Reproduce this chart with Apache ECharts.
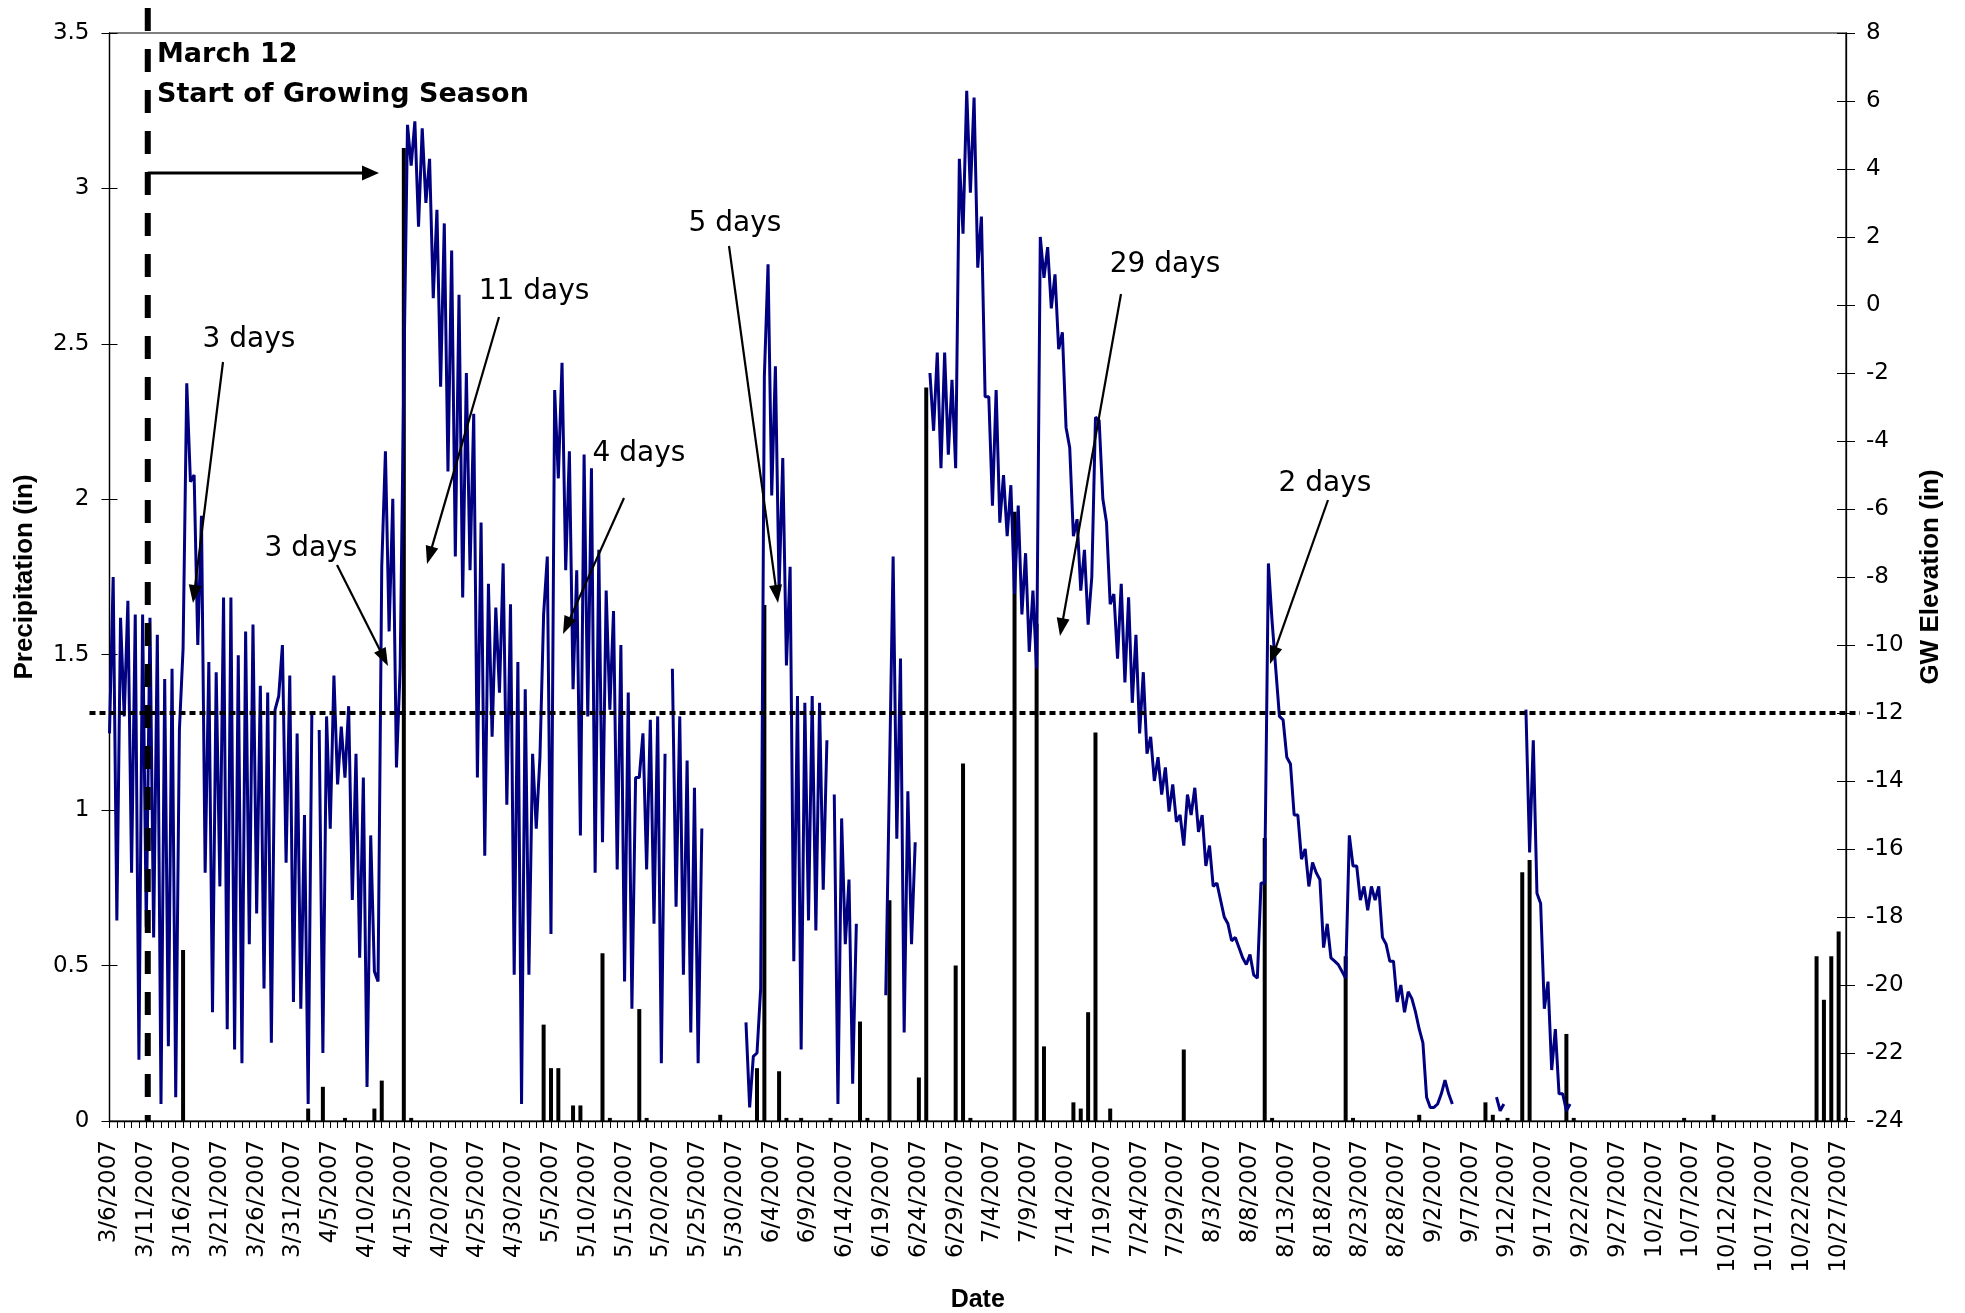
<!DOCTYPE html>
<html><head><meta charset="utf-8">
<script src="https://cdn.jsdelivr.net/npm/echarts@6/dist/echarts.min.js"></script>
<style>html,body{margin:0;padding:0;background:#fff}#c{width:1965px;height:1313px}</style>
</head><body><div id="c"></div>
<script>
// ---------- data ----------
const dayCount = 237; // 3/6/2007 .. 10/28/2007
const categories = [];
for (let i = 0; i < dayCount; i++) {
  const d = new Date(2007, 2, 6 + i);
  categories.push((d.getMonth() + 1) + '/' + d.getDate() + '/' + d.getFullYear());
}
const precipDates = ['3/16/2007','4/2/2007','4/4/2007','4/7/2007','4/11/2007','4/12/2007','4/15/2007','4/16/2007',
  '5/4/2007','5/5/2007','5/6/2007','5/8/2007','5/9/2007','5/12/2007','5/13/2007','5/17/2007','5/18/2007','5/28/2007',
  '6/2/2007','6/3/2007','6/5/2007','6/6/2007','6/8/2007','6/12/2007','6/16/2007','6/17/2007','6/20/2007','6/24/2007',
  '6/25/2007','6/29/2007','6/30/2007','7/1/2007','7/7/2007','7/10/2007','7/11/2007','7/15/2007','7/16/2007','7/17/2007',
  '7/18/2007','7/20/2007','7/30/2007','8/10/2007','8/11/2007','8/21/2007','8/22/2007','8/31/2007','9/9/2007','9/10/2007',
  '9/12/2007','9/14/2007','9/15/2007','9/20/2007','9/21/2007','10/6/2007','10/10/2007','10/24/2007','10/25/2007',
  '10/26/2007','10/27/2007','10/28/2007'];
const precipValues = [0.55,0.04,0.11,0.01,0.04,0.13,3.13,0.01,
  0.31,0.17,0.17,0.05,0.05,0.54,0.01,0.36,0.01,0.02,
  0.17,1.66,0.16,0.01,0.01,0.01,0.32,0.01,0.71,0.14,
  2.36,0.50,1.15,0.01,1.96,1.60,0.24,0.06,0.04,0.35,
  1.25,0.04,0.23,0.91,0.01,0.53,0.01,0.02,0.06,0.02,
  0.01,0.80,0.84,0.28,0.01,0.01,0.02,0.53,0.39,
  0.53,0.61,0.01];
// GW elevation, readings every half day starting 3/6/2007
const gwStepDays = 0.5;
const gwValues = [
 -12.6,-8.0,-18.1,-9.2,-12.1,-8.7,-16.7,-9.1,-22.2,-9.1,
 -18.3,-9.2,-18.6,-9.7,-23.5,-11.0,-21.8,-10.7,-23.3,-12.5,
 -10.1,-2.3,-5.2,-5.0,-10.0,-6.2,-16.7,-10.5,-20.8,-10.8,
 -17.1,-8.6,-21.3,-8.6,-21.9,-10.3,-22.3,-9.6,-18.8,-9.4,
 -17.9,-11.2,-20.1,-11.4,-21.7,-11.9,-11.5,-10.0,-16.4,-10.9,
 -20.5,-12.6,-20.7,-15.0,-23.5,-12.0,null,-12.5,-22.0,-12.1,
 -15.4,-10.9,-14.1,-12.4,-13.9,-11.8,-17.5,-13.2,-19.2,-13.9,
 -23.0,-15.6,-19.6,-19.9,-7.7,-4.3,-9.6,-5.7,-13.6,-10.7,
 -2.1,5.3,4.1,5.4,2.3,5.2,3.0,4.3,0.2,2.8,
 -2.4,2.4,-4.9,1.6,-7.4,0.3,-8.6,-2.0,-7.8,-3.2,
 -13.9,-6.4,-16.2,-8.2,-12.7,-8.9,-11.4,-7.6,-14.7,-8.8,
 -19.7,-10.5,-23.5,-11.3,-19.7,-13.2,-15.4,-13.3,-9.1,-7.4,
 -18.5,-2.5,-5.1,-1.7,-7.8,-4.3,-11.3,-7.8,-15.6,-4.4,
 -12.1,-4.8,-16.7,-7.2,-15.8,-8.4,-11.9,-9.0,-16.6,-10.0,
 -19.9,-11.4,-20.7,-13.9,-13.9,-12.6,-16.6,-12.2,-18.2,-12.1,
 -22.3,-13.2,null,-10.7,-17.7,-12.1,-19.7,-13.4,-21.4,-14.2,
 -22.3,-15.4,null,null,null,null,null,null,null,null,
 null,null,null,-21.1,-23.6,-22.1,-22.0,-20.1,-2.1,1.2,
 -5.6,-1.8,-8.4,-4.5,-10.6,-7.7,-19.3,-11.5,-21.9,-11.7,
 -18.1,-11.5,-18.4,-11.7,-17.2,-12.8,null,-14.4,-23.5,-15.1,
 -18.8,-16.9,-22.9,-18.2,null,null,null,null,null,null,
 null,-20.3,-13.9,-7.4,-15.7,-10.4,-21.4,-14.3,-18.8,-15.8,
 null,null,null,-2.0,-3.7,-1.4,-4.8,-1.4,-4.4,-2.2,
 -4.8,4.3,2.1,6.3,3.3,6.1,1.1,2.6,-2.7,-2.7,
 -5.9,-2.5,-6.4,-5.0,-6.8,-5.3,-8.5,-5.9,-9.1,-7.3,
 -10.2,-8.4,-10.7,2.0,0.8,1.7,-0.1,0.9,-1.3,-0.8,
 -3.6,-4.2,-6.8,-6.3,-8.4,-7.2,-9.4,-8.0,-3.3,-3.4,
 -5.7,-6.4,-8.8,-8.5,-10.4,-8.2,-11.1,-8.6,-11.7,-9.7,
 -12.6,-10.8,-13.2,-12.7,-14.0,-13.3,-14.4,-13.6,-14.9,-14.1,
 -15.2,-15.0,-15.9,-14.4,-15.0,-14.2,-15.5,-15.0,-16.5,-15.9,
 -17.1,-17.0,-17.5,-18.0,-18.2,-18.7,-18.6,-18.9,-19.2,-19.4,
 -19.1,-19.7,-19.8,-17.0,-17.0,-7.6,-9.3,-10.7,-12.1,-12.2,
 -13.3,-13.5,-15.0,-15.0,-16.3,-16.0,-17.1,-16.4,-16.7,-16.9,
 -18.9,-18.2,-19.2,-19.3,-19.4,-19.6,-19.8,-15.6,-16.5,-16.5,
 -17.5,-17.1,-17.8,-17.1,-17.5,-17.1,-18.6,-18.8,-19.3,-19.3,
 -20.5,-20.0,-20.8,-20.2,-20.4,-20.8,-21.3,-21.7,-23.3,-23.6,
 -23.6,-23.5,-23.2,-22.8,-23.2,-23.5,null,null,null,null,
 null,null,null,null,null,null,null,-23.3,-23.7,-23.5,
 null,null,null,null,null,-11.9,-16.1,-12.8,-17.3,-17.6,
 -20.7,-19.9,-22.5,-21.3,-23.2,-23.2,-23.7,-23.5
];
const precipTicks = {min: 0, max: 3.5, interval: 0.5};
const gwTicks = {min: -24, max: 8, interval: 2};
const thresholdGW = -12;
const growStartDay = 5.2; // March 12
const annotations = [
  {text: '3 days', x: 249, y: 340, from: [223, 362], to: [193, 603]},
  {text: '3 days', x: 311, y: 549, from: [337, 565], to: [388, 666]},
  {text: '11 days', x: 534, y: 292, from: [499, 317], to: [427, 564]},
  {text: '4 days', x: 639, y: 454, from: [624, 498], to: [563, 634]},
  {text: '5 days', x: 735, y: 224, from: [729, 246], to: [778, 603]},
  {text: '29 days', x: 1165, y: 265, from: [1121, 294], to: [1060, 636]},
  {text: '2 days', x: 1325, y: 484, from: [1328, 500], to: [1270, 664]}
];

// ---------- build ----------
const precipMap = {};
precipDates.forEach((d, i) => { precipMap[d] = precipValues[i]; });
const precipSeries = categories.map(c => (c in precipMap ? precipMap[c] : 0));
const gwSeries = gwValues.map((v, k) => [k * gwStepDays, v]);

const G = {left: 109.5, right: 119, top: 33, bottom: 192};
const tickFont = {fontFamily: 'DejaVu Sans', fontSize: 23, color: '#000'};
const axisLineStyle = {color: '#000', width: 1.3};

const chart = echarts.init(document.getElementById('c'));
chart.setOption({
  animation: false,
  backgroundColor: '#fff',
  grid: {left: G.left, right: G.right, top: G.top, bottom: G.bottom, show: true,
         borderColor: '#000', borderWidth: 1.2, backgroundColor: 'transparent'},
  xAxis: [
    {type: 'category', data: categories, boundaryGap: false,
     axisLine: {onZero: false, lineStyle: axisLineStyle},
     axisTick: {show: true, interval: 0, length: 7, lineStyle: {color: '#000', width: 1}},
     axisLabel: Object.assign({interval: 4, rotate: 90, margin: 19}, tickFont),
     splitLine: {show: false}},
    {type: 'value', min: 0, max: dayCount - 1, show: false}
  ],
  yAxis: [
    Object.assign({type: 'value', position: 'left',
     axisLine: {show: true, lineStyle: axisLineStyle},
     axisTick: {show: true, length: 8, lineStyle: {color: '#000', width: 1}},
     axisLabel: Object.assign({margin: 20}, tickFont), splitLine: {show: false}}, precipTicks),
    Object.assign({type: 'value', position: 'right',
     axisLine: {show: true, lineStyle: axisLineStyle},
     axisTick: {show: true, length: 9, lineStyle: {color: '#000', width: 1}},
     axisLabel: Object.assign({margin: 20}, tickFont), splitLine: {show: false}}, gwTicks),
    Object.assign({type: 'value', position: 'left', axisLine: {show: false},
     axisTick: {show: true, inside: true, length: 8, lineStyle: {color: '#000', width: 1}},
     axisLabel: {show: false}, splitLine: {show: false}}, precipTicks),
    Object.assign({type: 'value', position: 'right', axisLine: {show: false},
     axisTick: {show: true, inside: true, length: 9, lineStyle: {color: '#000', width: 1}},
     axisLabel: {show: false}, splitLine: {show: false}}, gwTicks)
  ],
  series: [
    {name: 'Precipitation', type: 'bar', xAxisIndex: 0, yAxisIndex: 0, data: precipSeries,
     barWidth: 4, itemStyle: {color: '#000'}, z: 2},
    {name: 'GW Elevation', type: 'line', xAxisIndex: 1, yAxisIndex: 1, data: gwSeries,
     symbol: 'none', showSymbol: false, connectNulls: false,
     lineStyle: {color: '#000080', width: 3}, z: 3}
  ]
});

// ---------- annotations ----------
const W = 1965, H = 1313;
const gx0 = G.left, gx1 = W - G.right, gy1 = H - G.bottom;
const xLine = chart.convertToPixel({xAxisIndex: 1}, growStartDay);
const yThr = chart.convertToPixel({yAxisIndex: 1}, thresholdGW);
function arrow(x1, y1, x2, y2, hl, hw, lw) {
  const dx = x2 - x1, dy = y2 - y1, L = Math.hypot(dx, dy), ux = dx / L, uy = dy / L;
  const bx = x2 - ux * hl, by = y2 - uy * hl;
  return [
    {type: 'line', z: 100, shape: {x1: x1, y1: y1, x2: bx + ux * 2, y2: by + uy * 2},
     style: {stroke: '#000', lineWidth: lw}},
    {type: 'polygon', z: 100, shape: {points: [[x2, y2], [bx - uy * hw, by + ux * hw], [bx + uy * hw, by - ux * hw]]},
     style: {fill: '#000'}}
  ];
}
function txt(t, x, y, opts) {
  return {type: 'text', z: 100, x: x, y: y, rotation: opts.rotation || 0,
    style: {text: t, fill: '#000', fontSize: opts.size, fontFamily: opts.family,
      fontWeight: opts.weight || 'normal', textAlign: opts.align || 'center',
      textVerticalAlign: 'middle', align: opts.align || 'center', verticalAlign: 'middle'}};
}
let graphics = [];
graphics.push({type: 'line', z: 90, shape: {x1: gx0 - 20, y1: yThr, x2: gx1 + 14, y2: yThr},
  style: {stroke: '#000', lineWidth: 4, lineDash: [6, 4]}});
graphics.push({type: 'line', z: 90, shape: {x1: xLine, y1: 8, x2: xLine, y2: gy1},
  style: {stroke: '#000', lineWidth: 6, lineDash: [23, 18]}});
graphics = graphics.concat(arrow(xLine, 173, 379, 173, 17, 7.5, 3));
graphics.push(txt('March 12', 157, 55, {size: 27, family: 'DejaVu Sans', weight: 'bold', align: 'left'}));
graphics.push(txt('Start of Growing Season', 157, 95, {size: 27, family: 'DejaVu Sans', weight: 'bold', align: 'left'}));
annotations.forEach(a => {
  graphics.push(txt(a.text, a.x, a.y, {size: 28, family: 'DejaVu Sans'}));
  graphics = graphics.concat(arrow(a.from[0], a.from[1], a.to[0], a.to[1], 18, 6.5, 2.2));
});
graphics.push(txt('Precipitation (in)', 25, (G.top + gy1) / 2, {size: 26, family: 'Liberation Sans', weight: 'bold', rotation: Math.PI / 2}));
graphics.push(txt('GW Elevation (in)', 1931, (G.top + gy1) / 2, {size: 26, family: 'Liberation Sans', weight: 'bold', rotation: Math.PI / 2}));
graphics.push(txt('Date', (gx0 + gx1) / 2, 1300, {size: 25, family: 'Liberation Sans', weight: 'bold'}));
chart.setOption({graphic: graphics});
</script>
</body></html>
